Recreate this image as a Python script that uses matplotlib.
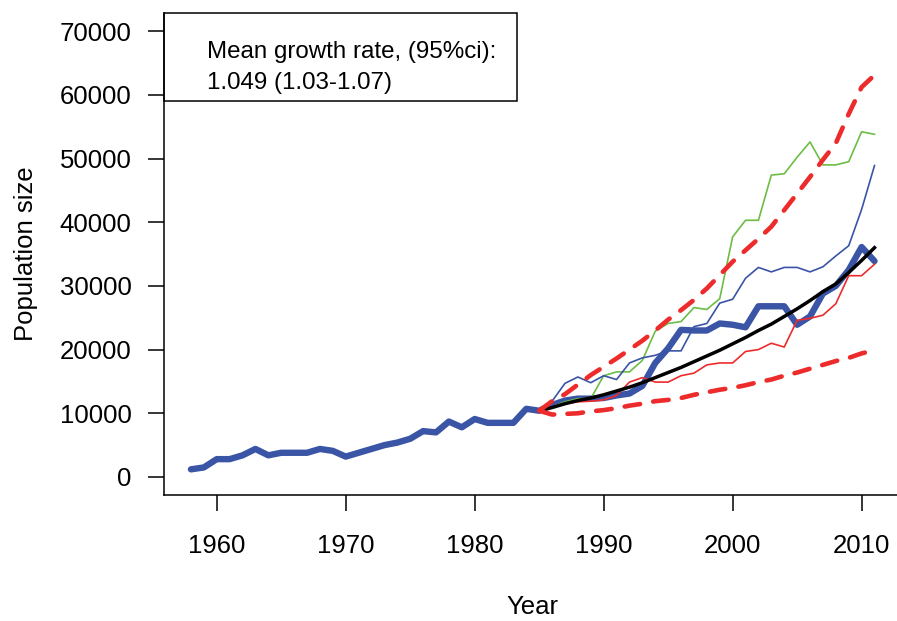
import matplotlib

matplotlib.use("Agg")
import matplotlib.pyplot as plt
from matplotlib.patches import Rectangle

plt.rcParams["font.family"] = ["Liberation Sans", "DejaVu Sans"]

# observed counts
obs_years = list(range(1958, 2012))
obs_size = [
    1200, 1500, 2800, 2800, 3400, 4400, 3400, 3800, 3800, 3800,
    4400, 4100, 3200, 3800, 4400, 5000, 5400, 6000, 7200, 7000,
    8700, 7800, 9100, 8500, 8500, 8500, 10700, 10400, 11300, 12000,
    12300, 12300, 12400, 12800, 13100, 14300, 17900, 20200, 23100, 23000,
    23000, 24100, 23900, 23500, 26800, 26800, 26800, 23900, 25200, 28800,
    30000, 32500, 36100, 33900,
]

# projections from 1985
proj_years = list(range(1985, 2012))
sim_green = [
    10400, 11000, 11800, 12300, 12300, 15900, 16500, 16500, 18300, 22900,
    24100, 24400, 26600, 26300, 28000, 37700, 40300, 40300, 47400, 47600,
    50200, 52600, 49000, 49000, 49500, 54200, 53800,
]
sim_blue = [
    10400, 11900, 14700, 15700, 14800, 15900, 15300, 17900, 18700, 19100,
    19800, 19800, 23600, 24100, 27300, 27900, 31200, 32900, 32200, 32900,
    32900, 32200, 33000, 34700, 36300, 42000, 48900,
]
sim_red = [
    10400, 11000, 11500, 11800, 11900, 12100, 12800, 14900, 15600, 14900,
    14900, 15900, 16300, 17600, 17900, 17900, 19700, 20000, 21000, 20400,
    24600, 24900, 25400, 27200, 31600, 31600, 33400,
]
mean_proj = [
    10400, 10900, 11500, 12000, 12400, 12900, 13500, 14100, 14800, 15600,
    16400, 17200, 18100, 19000, 19900, 20900, 21900, 23000, 24000, 25200,
    26400, 27700, 29100, 30300, 32100, 34000, 36000,
]
ci_upper = [
    10400, 11900, 13000, 14500, 16000, 17300, 18600, 20000, 21400, 23000,
    24700, 26200, 27800, 29600, 31700, 33800, 35600, 37400, 39300, 41900,
    44500, 47100, 49800, 52400, 57000, 61200, 63100,
]
ci_lower = [
    10400, 9800, 9900, 10000, 10300, 10500, 10800, 11200, 11500, 11900,
    12100, 12400, 12900, 13300, 13700, 14000, 14400, 14900, 15300, 15900,
    16400, 17000, 17600, 18200, 18700, 19400, 19900,
]

x_ticks = [1960, 1970, 1980, 1990, 2000, 2010]
y_ticks = list(range(0, 70001, 10000))
growth_lines = ["Mean growth rate, (95%ci):", "1.049 (1.03-1.07)"]

BLUE = "#3a54a6"
GREEN = "#6cbd45"
RED = "#ee2b2b"
FS = 18.5

fig = plt.figure(figsize=(8.97, 6.21), dpi=100)
ax = fig.add_axes([0.1824, 0.2032, 0.823, 0.7754])

ax.plot(obs_years, obs_size, color=BLUE, lw=4.6, solid_joinstyle="round",
        solid_capstyle="round", zorder=3)
ax.plot(proj_years, sim_green, color=GREEN, lw=1.2, zorder=4)
ax.plot(proj_years, sim_blue, color=BLUE, lw=1.2, zorder=4)
ax.plot(proj_years, sim_red, color=RED, lw=1.2, zorder=4)
ax.plot(proj_years, mean_proj, color="black", lw=2.5, zorder=5)
for ci in (ci_upper, ci_lower):
    ax.plot(proj_years, ci, color=RED, lw=3.3, linestyle=(0, (3.4, 2.9)),
            dash_capstyle="round", zorder=6)

ax.set_xlim(1955.88, 2013.12)
ax.set_ylim(-2800, 72800)
ax.set_xticks(x_ticks)
ax.set_yticks(y_ticks)
ax.spines["top"].set_visible(False)
ax.spines["right"].set_visible(False)
for side in ("left", "bottom"):
    ax.spines[side].set_linewidth(1.1)
ax.tick_params(direction="out", length=11.5, width=1.1, labelsize=FS)
ax.tick_params(axis="y", pad=11.5)
ax.tick_params(axis="x", pad=16.5)
ax.set_xlabel("Year", fontsize=FS, labelpad=27)
ax.set_ylabel("Population size", fontsize=FS, labelpad=16)

# growth-rate box in the top-left corner
ax.add_patch(Rectangle((0, 1 - 0.182), 0.4786, 0.182, transform=ax.transAxes,
                       fill=False, edgecolor="black", lw=1.1, clip_on=False,
                       zorder=7))
for text, ypos in zip(growth_lines, (0.9072, 0.8428)):
    ax.text(0.0588, ypos, text, transform=ax.transAxes, fontsize=17.4,
            va="baseline", ha="left", zorder=8)

fig.savefig("out.png", dpi=100)
